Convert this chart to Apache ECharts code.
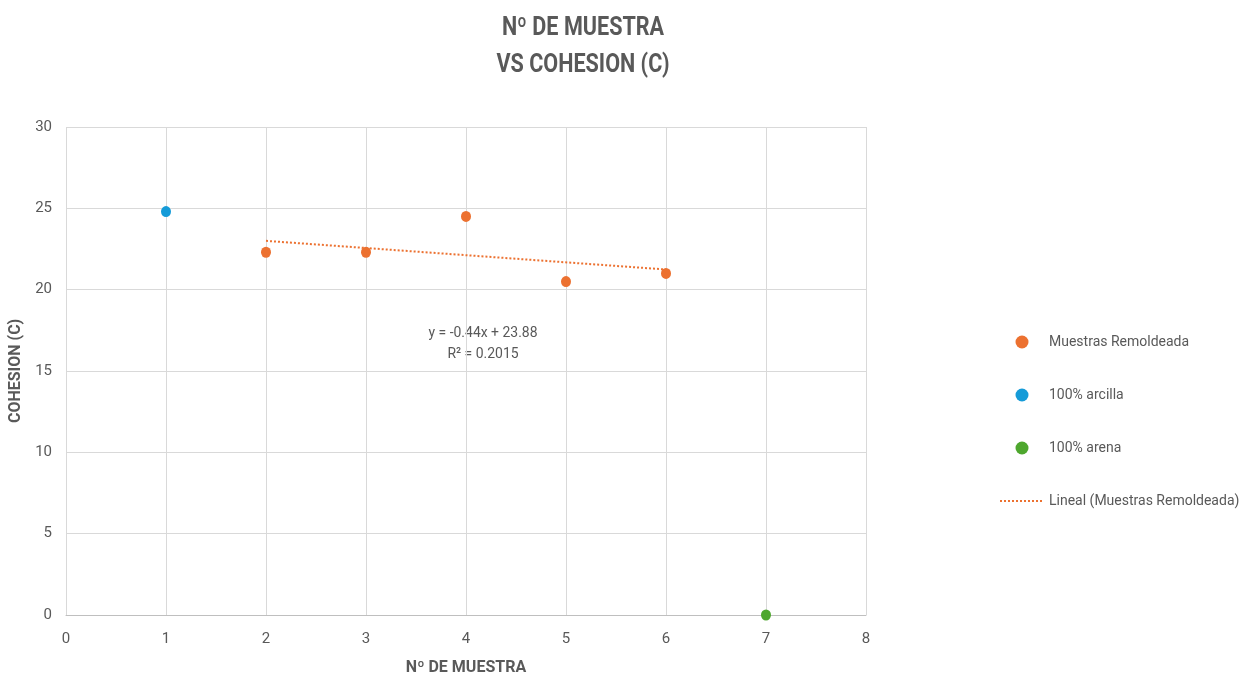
<!DOCTYPE html>
<html>
<head>
<meta charset="utf-8">
<script src="https://cdn.jsdelivr.net/npm/echarts@6/dist/echarts.min.js"></script>
<style>
  html, body { margin: 0; padding: 0; background: #fff; }
  #chart { width: 1242px; height: 677px; }
</style>
</head>
<body>
<div id="chart"></div>
<script>
// Muestras remoldeadas: número de muestra vs cohesión
const remoldeadaX = [2, 3, 4, 5, 6];
const remoldeadaC = [22.3, 22.3, 24.5, 20.5, 21.0];
const arcillaX = [1];
const arcillaC = [24.8];
const arenaX = [7];
const arenaC = [0];
const xTicks = [0, 1, 2, 3, 4, 5, 6, 7, 8];
const yTicks = [0, 5, 10, 15, 20, 25, 30];

const FONT = "'Roboto', sans-serif";
const GREY = '#595959';
const ORANGE = '#EC7130';
const BLUE = '#159BD8';
const GREEN = '#4EA72E';

// least-squares fit of the remolded samples
const n = remoldeadaX.length;
const mx = remoldeadaX.reduce((a, b) => a + b, 0) / n;
const my = remoldeadaC.reduce((a, b) => a + b, 0) / n;
let sxy = 0, sxx = 0, syy = 0;
for (let i = 0; i < n; i++) {
  sxy += (remoldeadaX[i] - mx) * (remoldeadaC[i] - my);
  sxx += (remoldeadaX[i] - mx) ** 2;
  syy += (remoldeadaC[i] - my) ** 2;
}
const slope = sxy / sxx;
const intercept = my - slope * mx;
const r2 = (sxy * sxy) / (sxx * syy);
const xMin = Math.min(...remoldeadaX), xMax = Math.max(...remoldeadaX);
const trend = [[xMin, slope * xMin + intercept], [xMax, slope * xMax + intercept]];

const pairs = (xs, ys) => xs.map((x, i) => [x, ys[i]]);

const chart = echarts.init(document.getElementById('chart'));
chart.setOption({
  backgroundColor: '#fff',
  animation: false,
  textStyle: { fontFamily: FONT },
  grid: { left: 66, right: 376, top: 127, bottom: 62, outerBoundsMode: 'none', containLabel: false },
  xAxis: {
    type: 'value',
    min: xTicks[0], max: xTicks[xTicks.length - 1], interval: 1,
    name: 'Nº DE MUESTRA',
    nameLocation: 'middle',
    nameGap: 45,
    nameTextStyle: { fontFamily: FONT, fontSize: 16, fontWeight: 'bold', color: GREY },
    axisLine: { show: true, lineStyle: { color: '#bfbfbf' } },
    axisTick: { show: false },
    axisLabel: { fontFamily: FONT, fontSize: 15, color: GREY, margin: 17 },
    splitLine: { show: true, lineStyle: { color: '#d9d9d9' } }
  },
  yAxis: {
    type: 'value',
    min: yTicks[0], max: yTicks[yTicks.length - 1], interval: 5,
    name: 'COHESION (C)',
    nameLocation: 'middle',
    nameGap: 34,
    nameTextStyle: { fontFamily: FONT, fontSize: 16, fontWeight: 'bold', color: GREY },
    axisLine: { show: false },
    axisTick: { show: false },
    axisLabel: { fontFamily: FONT, fontSize: 15, color: GREY, margin: 14 },
    splitLine: { show: true, lineStyle: { color: '#d9d9d9' } }
  },
  legend: {
    orient: 'vertical',
    left: 994,
    top: 330,
    itemGap: 39,
    itemWidth: 44,
    itemHeight: 13,
    textStyle: { fontFamily: FONT, fontSize: 14, color: GREY, padding: [0, 0, 0, 0] },
    data: [
      { name: 'Muestras Remoldeada', icon: 'circle' },
      { name: '100% arcilla', icon: 'circle' },
      { name: '100% arena', icon: 'circle' },
      { name: 'Lineal (Muestras Remoldeada)', itemStyle: { color: 'rgba(0,0,0,0)', opacity: 0 } }
    ]
  },
  graphic: [
    {
      // chart title, slightly condensed
      type: 'text',
      x: 583,
      y: 10,
      scaleX: 0.83,
      style: {
        text: 'Nº DE MUESTRA\nVS COHESION (C)',
        fill: GREY,
        font: 'bold 26px ' + FONT,
        align: 'center',
        verticalAlign: 'top',
        lineHeight: 37
      }
    },
    {
      // regression equation
      type: 'text',
      x: 483,
      y: 323,
      scaleX: 0.93,
      style: {
        text: 'y = ' + slope.toFixed(2) + 'x + ' + intercept.toFixed(2) + '\nR² = ' + r2.toFixed(4),
        fill: GREY,
        font: '15px ' + FONT,
        align: 'center',
        verticalAlign: 'top',
        lineHeight: 21
      }
    }
  ],
  series: [
    {
      name: 'Lineal (Muestras Remoldeada)',
      type: 'line',
      data: trend,
      showSymbol: false,
      symbol: 'none',
      lineStyle: { color: ORANGE, width: 2, type: [2, 2] },
      itemStyle: { color: ORANGE },
      z: 1
    },
    {
      name: 'Muestras Remoldeada',
      type: 'scatter',
      data: pairs(remoldeadaX, remoldeadaC),
      symbolSize: [10, 11],
      itemStyle: { color: ORANGE, opacity: 1 },
      z: 3
    },
    {
      name: '100% arcilla',
      type: 'scatter',
      data: pairs(arcillaX, arcillaC),
      symbolSize: [10, 11],
      itemStyle: { color: BLUE, opacity: 1 },
      z: 3
    },
    {
      name: '100% arena',
      type: 'scatter',
      data: pairs(arenaX, arenaC),
      symbolSize: [10, 11],
      itemStyle: { color: GREEN, opacity: 1 },
      z: 3
    }
  ]
});
</script>
</body>
</html>
